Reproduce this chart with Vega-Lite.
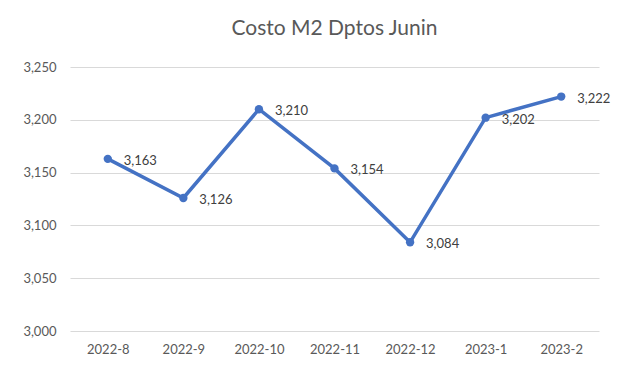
{
  "$schema": "https://vega.github.io/schema/vega-lite/v6.json",
  "width": 529,
  "height": 264,
  "autosize": {"type": "none"},
  "padding": {"left": 70, "top": 67, "right": 21, "bottom": 42},
  "background": "white",
  "title": {
    "text": "Costo M2 Dptos Junin",
    "font": "Lato",
    "fontSize": 21,
    "fontWeight": "normal",
    "color": "#595959",
    "offset": 22
  },
  "data": {
    "values": [
      {"mes": "2022-8", "costo": 3163},
      {"mes": "2022-9", "costo": 3126},
      {"mes": "2022-10", "costo": 3210},
      {"mes": "2022-11", "costo": 3154},
      {"mes": "2022-12", "costo": 3084},
      {"mes": "2023-1", "costo": 3202},
      {"mes": "2023-2", "costo": 3222}
    ]
  },
  "encoding": {
    "x": {
      "field": "mes",
      "type": "ordinal",
      "sort": null,
      "scale": {"paddingInner": 1, "paddingOuter": 0.5},
      "axis": {
        "title": null,
        "labelAngle": 0,
        "labelFont": "Lato",
        "labelFontSize": 13,
        "labelColor": "#595959",
        "labelPadding": 12,
        "domain": false,
        "ticks": false,
        "grid": false
      }
    },
    "y": {
      "field": "costo",
      "type": "quantitative",
      "scale": {"domain": [3000, 3250], "nice": false, "zero": false},
      "axis": {
        "title": null,
        "values": [3000, 3050, 3100, 3150, 3200, 3250],
        "format": ",d",
        "labelFont": "Lato",
        "labelFontSize": 13,
        "labelColor": "#595959",
        "labelPadding": 14,
        "domain": false,
        "ticks": false,
        "gridColor": "#d9d9d9",
        "gridWidth": 1.2
      }
    }
  },
  "layer": [
    {"mark": {"type": "line", "color": "#4472C4", "strokeWidth": 3.5}},
    {"mark": {"type": "point", "filled": true, "color": "#4472C4", "size": 70, "opacity": 1}},
    {
      "mark": {"type": "text", "align": "left", "baseline": "middle", "dx": 16, "dy": 2, "font": "Lato", "fontSize": 13, "color": "#404040"},
      "encoding": {"text": {"field": "costo", "type": "quantitative", "format": ",d"}}
    }
  ],
  "config": {"view": {"stroke": null}}
}
